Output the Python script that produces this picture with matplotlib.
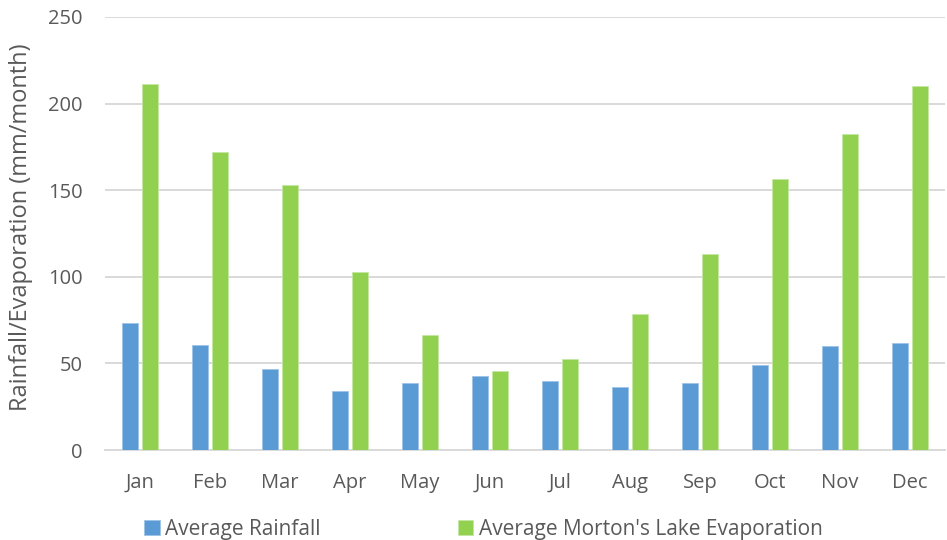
import numpy as np
import matplotlib.pyplot as plt

months = ['Jan', 'Feb', 'Mar', 'Apr', 'May', 'Jun',
          'Jul', 'Aug', 'Sep', 'Oct', 'Nov', 'Dec']
rainfall = [73.5, 60.8, 46.9, 34.1, 38.8, 42.6, 39.8, 36.5, 38.6, 49.0, 59.8, 61.7]
evaporation = [211.2, 171.9, 152.8, 102.9, 66.4, 45.7, 52.7, 78.6, 113.0, 156.3, 182.4, 210.4]

plt.rcParams['font.family'] = ['Open Sans', 'DejaVu Sans']
text_col = '#595959'

fig = plt.figure(figsize=(9.47, 5.4), dpi=100)
ax = fig.add_axes([105/947, 1 - 450/540, 840/947, 433/540])

x = np.arange(len(months))
w = 0.23
off = 0.146
ax.bar(x - off, rainfall, w, color='#5B9BD5', edgecolor='#9DC3E6', linewidth=0.6,
       label='Average Rainfall', zorder=3)
ax.bar(x + off, evaporation, w, color='#92D050', edgecolor='#C5E8A4', linewidth=0.6,
       label="Average Morton's Lake Evaporation", zorder=3)

ax.set_xlim(-0.5, len(months) - 0.5)
ax.set_ylim(0, 250)
ax.set_yticks(range(0, 251, 50))
ax.set_xticks(x)
ax.set_xticklabels(months)
ax.yaxis.grid(True, color='#D9D9D9', linewidth=1.4, zorder=0)
ax.tick_params(axis='both', length=0, labelsize=14.5, colors=text_col)
ax.tick_params(axis='x', pad=16.5)
ax.tick_params(axis='y', pad=16)
for s in ['top', 'right', 'left']:
    ax.spines[s].set_visible(False)
ax.spines['bottom'].set_color('#D9D9D9')
ax.spines['bottom'].set_linewidth(1.4)

ax.set_ylabel('Rainfall/Evaporation (mm/month)', fontsize=17, color=text_col)
ax.yaxis.set_label_coords(-(105 - 33) / 840, 0.515)

fig.legend(loc='center left', bbox_to_anchor=(144/947, 1 - 529/540), ncol=2,
           frameon=False, fontsize=15, handlelength=0.75, handleheight=0.75,
           handletextpad=0.25, columnspacing=6.6, labelcolor=text_col,
           borderaxespad=0, borderpad=0)

fig.savefig('out.png', dpi=100)
